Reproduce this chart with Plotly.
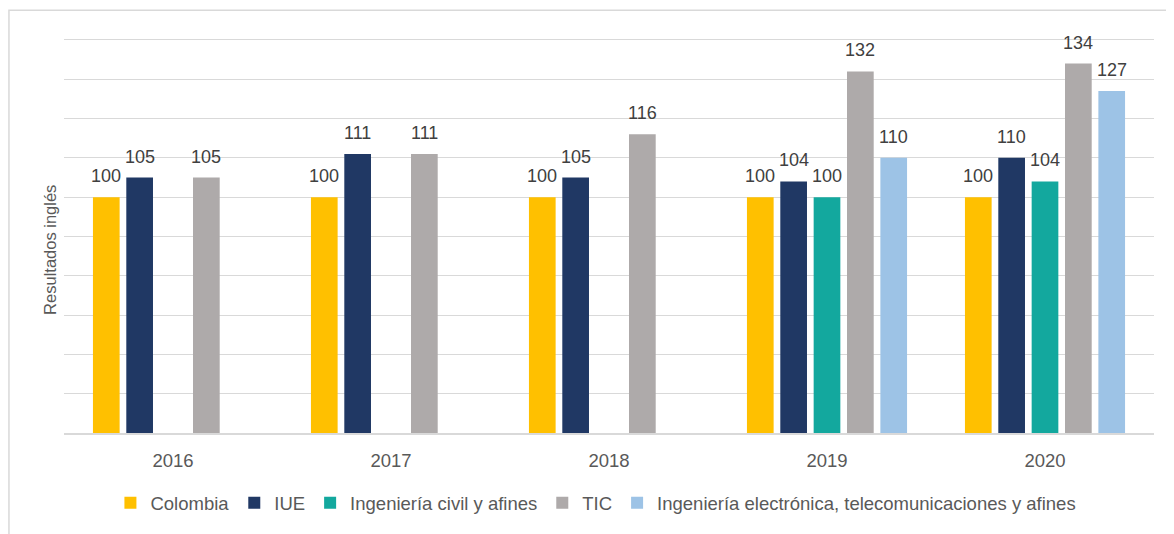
import plotly.graph_objects as go

# data
years = ['2016', '2017', '2018', '2019', '2020']
series_names = ['Colombia', 'IUE', 'Ingeniería civil y afines', 'TIC',
                'Ingeniería electrónica, telecomunicaciones y afines']
colombia = [100, 100, 100, 100, 100]
iue = [105, 111, 105, 104, 110]
civil = [None, None, None, 100, 104]
tic = [105, 111, 116, 132, 134]
electronica = [None, None, None, 110, 127]

values = [colombia, iue, civil, tic, electronica]
colors = ['#FFC000', '#203864', '#13A89E', '#AEAAAA', '#9DC3E6']

bargap = 0.235
n = len(values)

fig = go.Figure()
for name, vals, col in zip(series_names, values, colors):
    fig.add_trace(go.Bar(x=years, y=vals, name=name, marker_color=col,
                         marker_line_width=0))

# data labels above the bars
slot = (1 - bargap) / n
for i, vals in enumerate(values):
    for j, v in enumerate(vals):
        if v is None:
            continue
        fig.add_annotation(x=j + (i - (n - 1) / 2) * slot, y=v, text=str(v),
                           showarrow=False, yanchor='bottom', yshift=9,
                           font=dict(size=18, color='#404040'))

# plot area is 401px tall for range 40..141
ph = 401.0

# y axis title
fig.add_annotation(xref='paper', yref='paper', x=-0.0128, y=(429 - 244) / ph,
                   xanchor='center', yanchor='middle',
                   text='Resultados inglés', textangle=-90, showarrow=False,
                   font=dict(size=16.5, color='#595959'))

# outer frame
fig.add_shape(type='rect', xref='paper', yref='paper',
              x0=-0.0505, x1=1.03, y0=-0.3, y1=(429 - 2) / ph,
              line=dict(color='#D9D9D9', width=1.5), layer='below')

fig.update_layout(
    width=1166, height=526,
    margin=dict(l=56, r=20, t=28, b=97),
    paper_bgcolor='white', plot_bgcolor='white',
    font=dict(family='Liberation Sans, Arial, sans-serif', color='#595959'),
    barmode='group', bargap=bargap, bargroupgap=0.2,
    showlegend=True,
    legend=dict(orientation='h', x=0.488, xanchor='center',
                y=-(500 - 429) / ph, yanchor='middle',
                font=dict(size=18.5, color='#595959'), itemclick=False),
    xaxis=dict(showline=True, linecolor='#D9D9D9', linewidth=1.5,
               tickfont=dict(size=18.5, color='#595959'),
               ticks='outside', ticklen=10, tickcolor='rgba(0,0,0,0)'),
    yaxis=dict(range=[40, 141], dtick=10, showticklabels=False,
               gridcolor='#D9D9D9', gridwidth=1.3, zeroline=False),
)

fig.write_html("out.html")
